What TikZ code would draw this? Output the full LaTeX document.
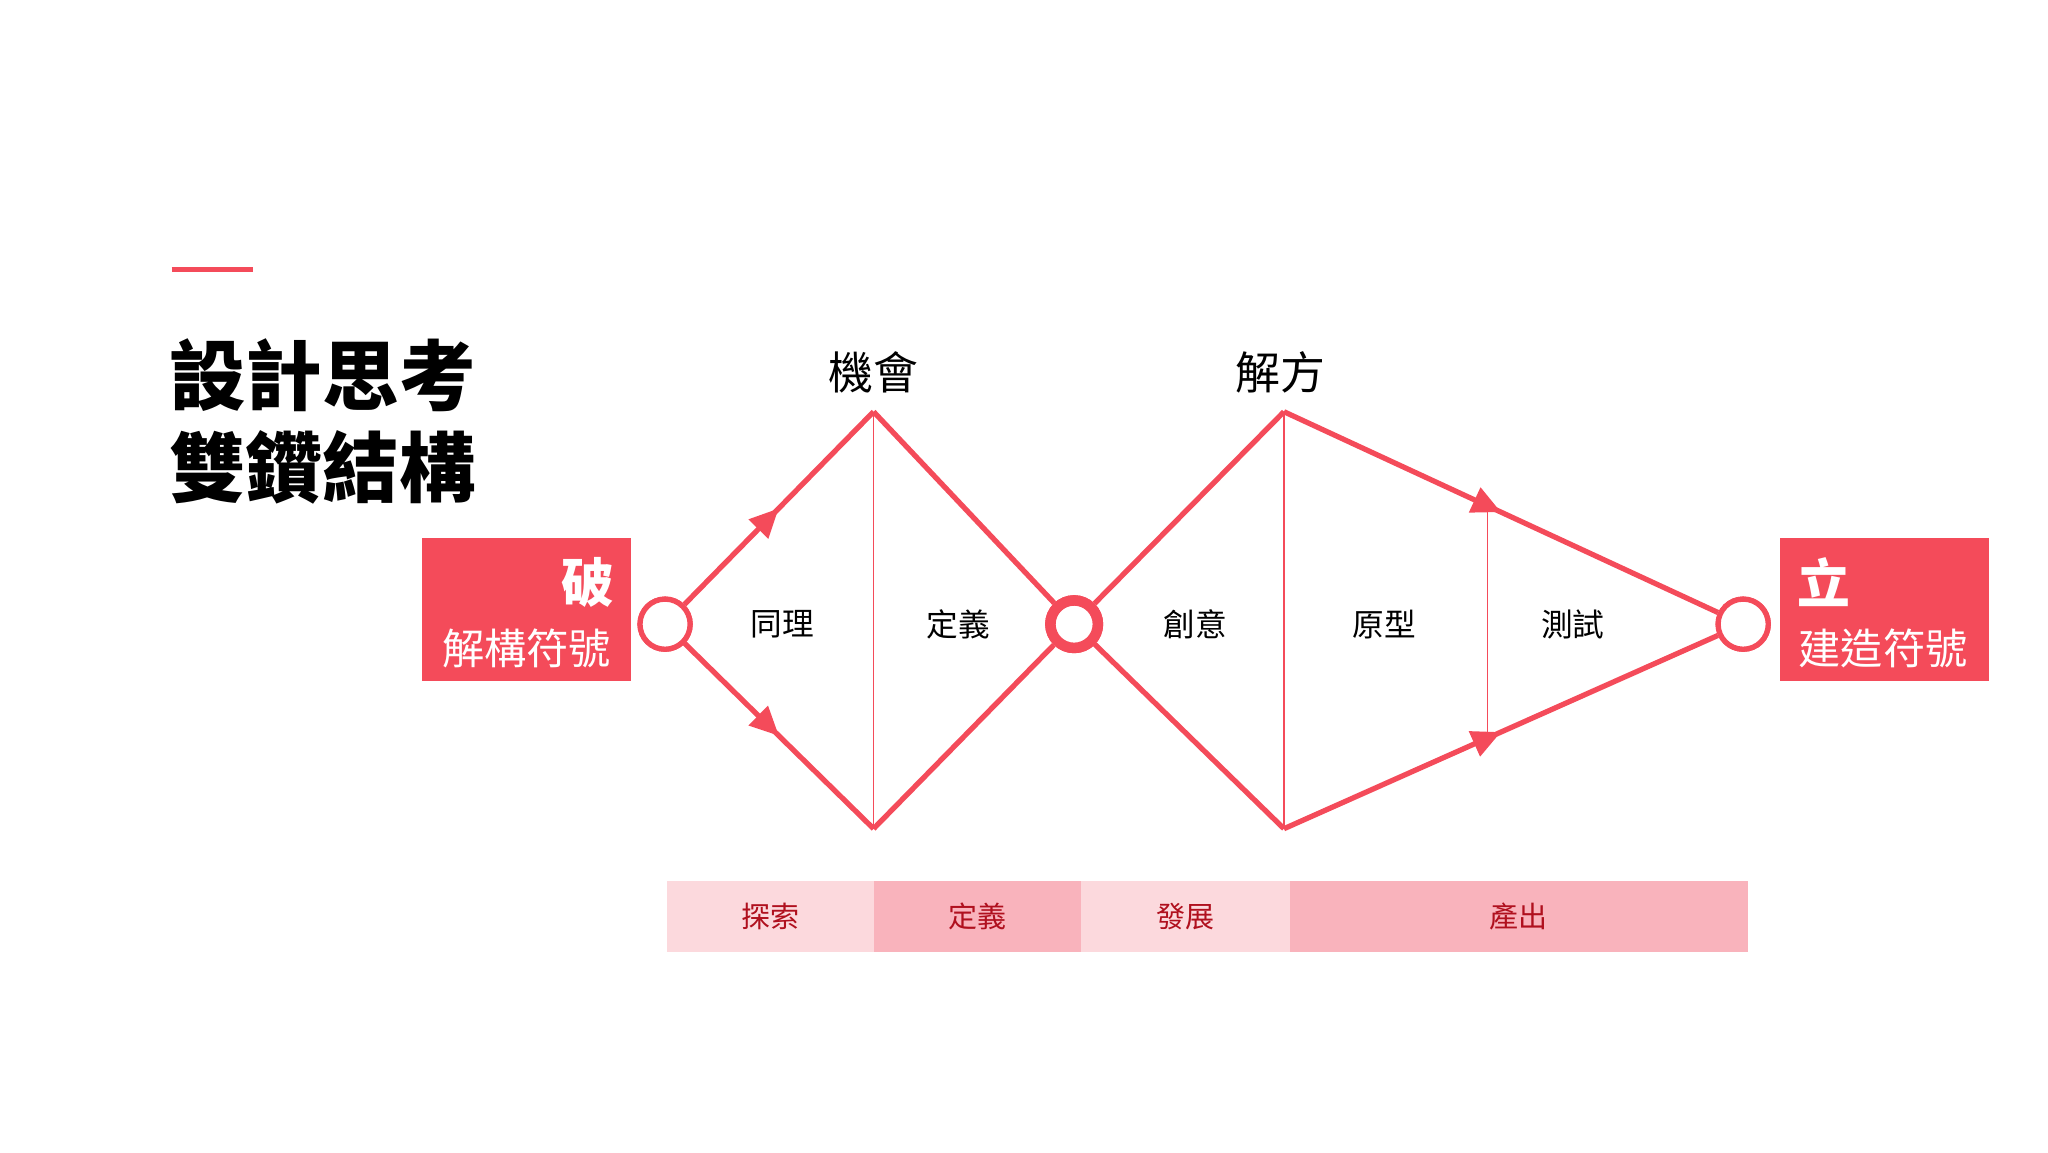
\documentclass[tikz,border=0pt]{standalone}
\usepackage{fontspec}
\setmainfont{Noto Sans CJK TC}
\usetikzlibrary{decorations.markings,arrows.meta}
\definecolor{dred}{HTML}{F44B5A}
\definecolor{lpink}{HTML}{FCD9DD}
\definecolor{mpink}{HTML}{F9B3BC}
\definecolor{tred}{HTML}{B0101E}
\tikzset{
 edge/.style={draw=dred,line width=2pt},
 arrowedge/.style={edge,postaction={decorate},decoration={markings,mark=at position 0.5 with {\arrow{Triangle[length=11pt,width=10pt]}}}},
 thin/.style={draw=dred,line width=0.5pt},
 ring/.style={circle,draw=dred,fill=white,line width=2pt,minimum size=38\unit,inner sep=0pt},
 lbl/.style={font=\fontsize{12}{14}\selectfont,text=black},
 bar/.style={minimum height=54\unit,inner sep=0pt,font=\fontsize{11}{13}\selectfont,text=tred},
}
\newlength{\unit}\setlength{\unit}{0.5pt}
\begin{document}
\begin{tikzpicture}[x=0.5pt,y=-0.5pt]
\useasboundingbox (0,0) rectangle (1552,873);
% title
\draw[dred,line width=2pt] (130,204) -- (192,204);
\node[anchor=west,font=\fontsize{29}{32}\bfseries\selectfont,inner sep=0pt] (t1) at (128,284) {設計思考};
\node[anchor=west,font=\fontsize{29}{32}\bfseries\selectfont,inner sep=0pt] (t2) at (128,354) {雙鑽結構};
% side boxes
\fill[dred] (320,408) rectangle (478,516);
\node[anchor=east,font=\fontsize{20}{22}\bfseries\selectfont,text=white,inner sep=0pt] (po) at (466,441) {破};
\node[font=\fontsize{16}{18}\selectfont,text=white,inner sep=0pt] (jg) at (399,491) {解構符號};
\fill[dred] (1349,408) rectangle (1507,516);
\node[anchor=west,font=\fontsize{20}{22}\bfseries\selectfont,text=white,inner sep=0pt] (li) at (1362,441) {立};
\node[font=\fontsize{16}{18}\selectfont,text=white,inner sep=0pt] (jz) at (1427,491) {建造符號};
% corners
\coordinate (d1t) at (662,312); \coordinate (d1b) at (662,628);
\coordinate (d2t) at (973,312); \coordinate (d2b) at (973,628);
\node[ring] (c1) at (504,473) {};
\node[ring,minimum size=36\unit,line width=4pt] (c2) at (814,473) {};
\node[ring] (c3) at (1321,473) {};
\draw[arrowedge] (c1) -- (d1t);
\draw[arrowedge] (c1) -- (d1b);
\draw[edge] (d1t) -- (c2);
\draw[edge] (d1b) -- (c2);
\draw[edge] (c2) -- (d2t);
\draw[edge] (c2) -- (d2b);
\draw[arrowedge] (d2t) -- (c3);
\draw[arrowedge] (d2b) -- (c3);
\draw[thin] (d1t) -- (d1b);
\draw[thin] (d2t) -- (d2b);
\coordinate (v3t) at (1127,381); \coordinate (v3b) at (1127,557);
\draw[thin] (v3t) -- (v3b);
% redraw rings on top
\node[ring] at (504,473) {};
\node[ring,minimum size=36\unit,line width=4pt] at (814,473) {};
\node[ring] at (1321,473) {};
% labels
\node[font=\fontsize{17}{19}\selectfont] (jh) at (662,282) {機會};
\node[font=\fontsize{17}{19}\selectfont] (jf) at (970,282) {解方};
\node[lbl] (a1) at (593,473) {同理};
\node[lbl] (a2) at (726,473) {定義};
\node[lbl] (a3) at (906,473) {創意};
\node[lbl] (a4) at (1049,473) {原型};
\node[lbl] (a5) at (1192,473) {測試};
% bars
\node[bar,fill=lpink,minimum width=157\unit,anchor=north west] (b1) at (505,667) {探索};
\node[bar,fill=mpink,minimum width=157\unit,anchor=north west] (b2) at (662,667) {定義};
\node[bar,fill=lpink,minimum width=158\unit,anchor=north west] (b3) at (819,667) {發展};
\node[bar,fill=mpink,minimum width=347\unit,anchor=north west] (b4) at (977,667) {產出};
\end{tikzpicture}
\end{document}
